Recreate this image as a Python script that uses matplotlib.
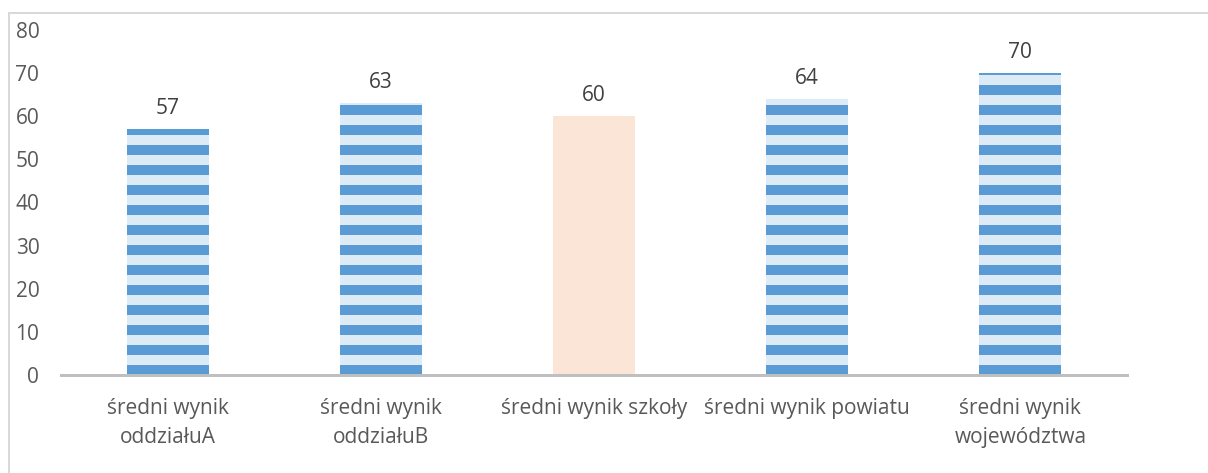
import numpy as np
import matplotlib
matplotlib.use("Agg")
import matplotlib.pyplot as plt
from matplotlib.patches import Rectangle

# Chart data
categories = ["średni wynik\noddziałuA", "średni wynik\noddziałuB", "średni wynik szkoły",
              "średni wynik powiatu", "średni wynik\nwojewództwa"]
values = [57, 63, 60, 64, 70]
striped = [True, True, False, True, True]
y_ticks = [0, 10, 20, 30, 40, 50, 60, 70, 80]

plt.rcParams['font.family'] = ['Open Sans', 'DejaVu Sans']
plt.rcParams['hatch.linewidth'] = 6.0

dpi = 120
fig = plt.figure(figsize=(1208 / dpi, 473 / dpi), dpi=dpi)
ax = fig.add_axes([61 / 1208, 1 - 375 / 473, (1127 - 61) / 1208, (375 - 30) / 473])

x = np.arange(len(categories))
for xi, v, s in zip(x, values, striped):
    if s:
        ax.bar(xi, v, width=0.385, color='#ddebf7', edgecolor='#5b9bd5', hatch='-', linewidth=0)
    else:
        ax.bar(xi, v, width=0.385, color='#fbe5d6', linewidth=0)
    ax.text(xi, v + 2.3, str(v), ha='center', va='bottom', fontsize=12.5, color='#404040')

ax.set_xlim(-0.5, len(categories) - 0.5)
ax.set_ylim(0, 80)
ax.set_yticks(y_ticks)
ax.set_xticks(x)
ax.set_xticklabels(categories, fontsize=12.5, color='#595959', linespacing=1.5)
ax.tick_params(axis='y', length=0, pad=13, labelsize=12.5, labelcolor='#595959')
ax.tick_params(axis='x', length=0, pad=14)

for side in ['left', 'right', 'top']:
    ax.spines[side].set_visible(False)
ax.spines['bottom'].set_color('#bfbfbf')
ax.spines['bottom'].set_linewidth(1.8)

# Outer frame (top and left edges visible)
fig.add_artist(Rectangle((9 / 1208, -0.1), 1.2, 1 - 13 / 473 + 0.1, transform=fig.transFigure,
                         fill=False, edgecolor='#d9d9d9', linewidth=1.2))

fig.savefig("out.png", dpi=dpi)
